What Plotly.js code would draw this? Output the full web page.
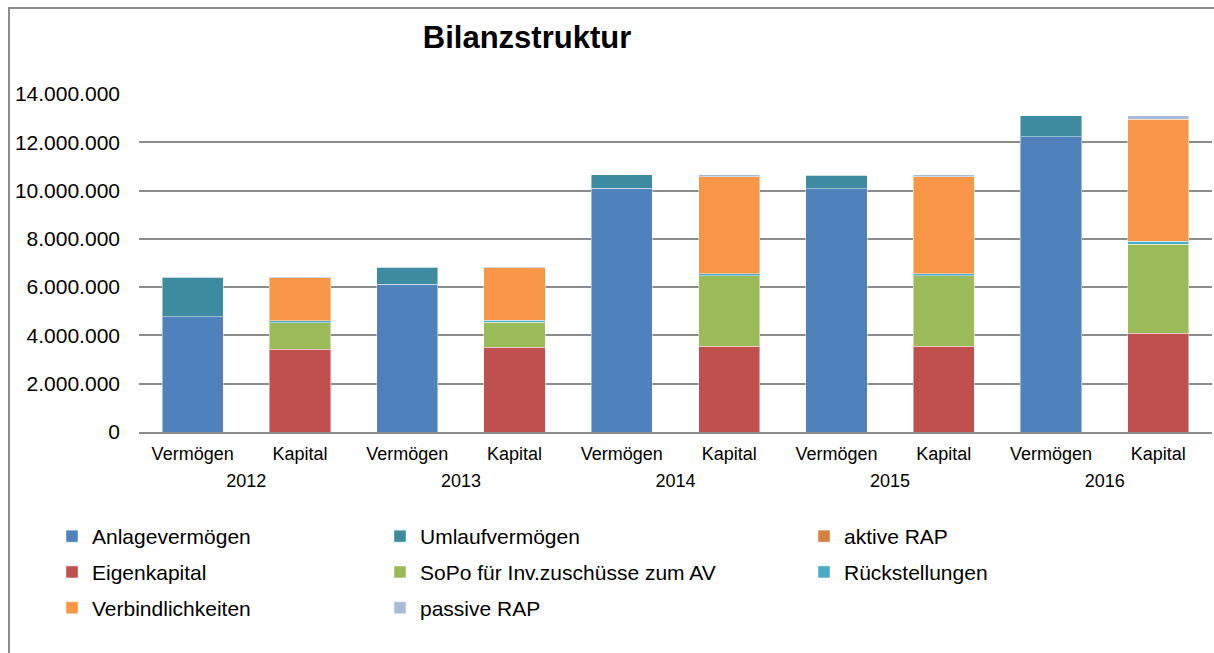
<!DOCTYPE html>
<html>
<head>
<meta charset="utf-8">
<script src="https://cdn.plot.ly/plotly-3.0.1.min.js"></script>
<style>
  html, body { margin: 0; padding: 0; background: #fff; }
  #chart { position: absolute; left: 0; top: 0; width: 1214px; height: 653px; }
  #frame { position: absolute; left: 8px; top: 7px; width: 1400px; height: 800px;
           border-left: 2px solid #8c8c8c; border-top: 2px solid #8c8c8c; pointer-events: none; }
</style>
</head>
<body>
<div id="chart"></div>
<div id="frame"></div>
<script>
// ---- data (EUR) ----
const years = ["2012", "2013", "2014", "2015", "2016"];
const sides = ["Vermögen", "Kapital"];

const anlagevermoegen   = [4780000, 6130000, 10090000, 10070000, 12230000];
const umlaufvermoegen   = [1630000, 700000, 560000, 570000, 860000];
const aktiveRAP         = [10000, 10000, 10000, 10000, 10000];
const eigenkapital      = [3430000, 3520000, 3560000, 3560000, 4100000];
const sopo              = [1100000, 1020000, 2910000, 2910000, 3680000];
const rueckstellungen   = [80000, 80000, 80000, 80000, 120000];
const verbindlichkeiten = [1780000, 2190000, 4030000, 4030000, 5050000];
const passiveRAP        = [20000, 20000, 70000, 70000, 140000];

const yTicks = [0, 2000000, 4000000, 6000000, 8000000, 10000000, 12000000, 14000000];

// ---- categories: one per (year, side) ----
const catIds = [], catText = [];
years.forEach(y => sides.forEach(s => { catIds.push(y + " " + s); catText.push(s); }));
// year label sits at the middle of its two bars (category index space)
const yearPos = years.map((y, i) => i * sides.length + (sides.length - 1) / 2);

function onSide(values, side) {
  const out = [];
  years.forEach((y, i) => sides.forEach(s => out.push(s === side ? values[i] : null)));
  return out;
}

const series = [
  {name: "Anlagevermögen", v: anlagevermoegen, side: "Vermögen", color: "#4F81BD", legend: "legend"},
  {name: "Umlaufvermögen", v: umlaufvermoegen, side: "Vermögen", color: "#3C8BA1", legend: "legend2"},
  {name: "aktive RAP", v: aktiveRAP, side: "Vermögen", color: "#D4823F", legend: "legend3"},
  {name: "Eigenkapital", v: eigenkapital, side: "Kapital", color: "#C0504D", legend: "legend"},
  {name: "SoPo für Inv.zuschüsse zum AV", v: sopo, side: "Kapital", color: "#9BBB59", legend: "legend2"},
  {name: "Rückstellungen", v: rueckstellungen, side: "Kapital", color: "#4BACC6", legend: "legend3"},
  {name: "Verbindlichkeiten", v: verbindlichkeiten, side: "Kapital", color: "#F79646", legend: "legend"},
  {name: "passive RAP", v: passiveRAP, side: "Kapital", color: "#A9BBDB", legend: "legend2"}
];

const traces = series.map((s, i) => ({
  type: "bar",
  name: s.name,
  x: catIds,
  y: onSide(s.v, s.side),
  marker: {color: s.color, line: {color: "rgba(255,255,255,0.45)", width: 1}},
  legend: s.legend,
  legendgroup: "g" + i,
  hoverinfo: "name+y"
}));

// invisible helper trace so that the year-level axis is drawn
traces.push({
  type: "scatter", mode: "none",
  x: yearPos, y: years.map(() => 0),
  xaxis: "x2", yaxis: "y",
  showlegend: false, hoverinfo: "skip"
});

const FONT = "Liberation Sans, Arial, Helvetica, sans-serif";
const legendBase = {
  orientation: "v",
  xref: "container", yref: "container",
  yanchor: "top", xanchor: "left",
  y: 1 - 516 / 653,
  font: {family: FONT, size: 21, color: "#000"},
  bgcolor: "rgba(0,0,0,0)",
  tracegroupgap: 5.5,
  traceorder: "grouped"
};

const layout = {
  width: 1214, height: 653,
  margin: {l: 139, r: 2, t: 94, b: 221, autoexpand: false},
  paper_bgcolor: "#fff", plot_bgcolor: "#fff",
  separators: ",.",
  barmode: "stack",
  bargap: 0.43,
  font: {family: FONT, color: "#000"},
  title: {
    text: "Bilanzstruktur",
    font: {family: FONT, size: 31, weight: 700, color: "#000"},
    xref: "container", yref: "container",
    x: 527 / 1214, xanchor: "center",
    y: 1 - 37 / 653, yanchor: "middle"
  },
  xaxis: {
    type: "category",
    range: [-0.5, catIds.length - 0.5],
    tickvals: catIds,
    ticktext: catText,
    automargin: false,
    tickangle: 0,
    ticklabelstandoff: 4,
    tickfont: {family: FONT, size: 18, color: "#000"},
    showline: true, linecolor: "#8c8c8c", linewidth: 2,
    ticks: "", showgrid: false
  },
  xaxis2: {
    overlaying: "x",
    anchor: "y",
    side: "bottom",
    type: "linear",
    range: [-0.5, catIds.length - 0.5],
    tickvals: yearPos,
    ticktext: years,
    automargin: false,
    tickangle: 0,
    ticks: "outside", ticklen: 32, tickcolor: "rgba(0,0,0,0)",
    tickfont: {family: FONT, size: 18, color: "#000"},
    showline: false, showgrid: false, zeroline: false
  },
  yaxis: {
    range: [0, 14000000],
    automargin: false,
    tickvals: yTicks,
    tickformat: ",d",
    tickfont: {family: FONT, size: 21, color: "#000"},
    showgrid: true, gridcolor: "#8c8c8c", gridwidth: 1.5,
    zeroline: false, showline: false,
    ticks: "", ticklabelstandoff: 18
  },
  showlegend: true,
  legend: Object.assign({}, legendBase, {x: 52 / 1214}),
  legend2: Object.assign({}, legendBase, {x: 380 / 1214}),
  legend3: Object.assign({}, legendBase, {x: 804 / 1214})
};

Plotly.newPlot("chart", traces, layout, {displayModeBar: false, responsive: false});
</script>
</body>
</html>
